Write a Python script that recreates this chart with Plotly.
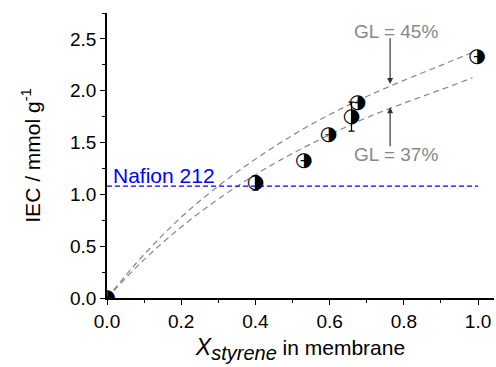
import plotly.graph_objects as go

# measured points (X_styrene, IEC)
x_pts = [0.0, 0.40, 0.53, 0.597, 0.659, 0.675, 0.997]
y_pts = [0.0, 1.11, 1.325, 1.575, 1.75, 1.885, 2.33]
err_pts = [0.0, 0.07, 0.0, 0.0, 0.14, 0.0, 0.0]

# dashed guide curves
x_curve = [0.0, 0.1, 0.2, 0.3, 0.4, 0.5, 0.6, 0.7, 0.8, 0.9, 0.985]
y_gl45 = [0.0, 0.42, 0.78, 1.08, 1.34, 1.57, 1.77, 1.945, 2.10, 2.245, 2.37]
y_gl37 = [0.0, 0.37, 0.685, 0.955, 1.19, 1.395, 1.575, 1.74, 1.88, 2.01, 2.125]

nafion_x = [0.0, 1.0]
nafion_y = [1.08, 1.08]

font = "Liberation Sans, Arial, sans-serif"

fig = go.Figure()
fig.add_trace(go.Scatter(x=x_curve, y=y_gl45, mode="lines", line=dict(color="#888888", width=1.2, dash="6px,4px"), line_shape="spline", hoverinfo="skip"))
fig.add_trace(go.Scatter(x=x_curve, y=y_gl37, mode="lines", line=dict(color="#888888", width=1.2, dash="6px,4px"), line_shape="spline", hoverinfo="skip"))
fig.add_trace(go.Scatter(x=nafion_x, y=nafion_y, mode="lines", line=dict(color="#0000ff", width=1.3, dash="5px,3px")))
# error bars
fig.add_trace(go.Scatter(x=x_pts, y=y_pts, mode="markers", marker=dict(size=1, opacity=0),
                         error_y=dict(type="data", array=err_pts, color="black", thickness=1.2, width=3)))
# half-filled markers
fig.add_trace(go.Scatter(x=x_pts, y=y_pts, mode="text", text=["\u25d1"] * len(x_pts),
                         textposition="middle center",
                         textfont=dict(family="DejaVu Sans", size=20, color="black"), cliponaxis=True))

fig.add_annotation(x=0.01, y=1.08, text="Nafion 212", showarrow=False, xanchor="left", yanchor="bottom",
                   font=dict(family=font, size=21, color="#0000ff"), yshift=-3)
fig.add_annotation(x=0.763, y=2.066, ax=0.763, ay=2.52, axref="x", ayref="y", text="", showarrow=True,
                   arrowhead=2, arrowsize=1, arrowwidth=1.2, arrowcolor="#333333")
fig.add_annotation(x=0.763, y=1.84, ax=0.763, ay=1.45, axref="x", ayref="y", text="", showarrow=True,
                   arrowhead=2, arrowsize=1, arrowwidth=1.2, arrowcolor="#333333")
fig.add_annotation(x=0.78, y=2.57, text="GL = 45%", showarrow=False, font=dict(family=font, size=19, color="#888888"))
fig.add_annotation(x=0.78, y=1.38, text="GL = 37%", showarrow=False, font=dict(family=font, size=19, color="#888888"))

axis_common = dict(showgrid=False, zeroline=False, showline=True, linecolor="black", linewidth=1.5,
                   ticks="outside", ticklen=5, tickwidth=1.2, tickcolor="black", automargin=False,
                   tickfont=dict(family=font, size=19, color="black"))
fig.update_xaxes(range=[0, 1.043], tickvals=[0, 0.2, 0.4, 0.6, 0.8, 1.0], ticktext=["0.0", "0.2", "0.4", "0.6", "0.8", "1.0"],
                 minor=dict(ticks="outside", ticklen=3, tickcolor="black", dtick=0.1, tick0=0),
                 title=dict(text="<i><span style='font-size:23px'>X</span><sub><span style='font-size:20px'>styrene</span></sub></i> in membrane",
                            font=dict(family=font, size=21, color="black"), standoff=10),
                 **axis_common)
fig.update_yaxes(range=[0, 2.75], tickvals=[0, 0.5, 1.0, 1.5, 2.0, 2.5], ticktext=["0.0", "0.5", "1.0", "1.5", "2.0", "2.5"],
                 minor=dict(ticks="outside", ticklen=3, tickcolor="black", dtick=0.25, tick0=0),
                 title=dict(text="IEC / mmol g<sup>-1</sup>", font=dict(family=font, size=21, color="black"), standoff=24),
                 **axis_common)
fig.update_layout(width=496, height=367, margin=dict(l=107, r=2, t=13, b=69), showlegend=False,
                  plot_bgcolor="white", paper_bgcolor="white")
fig.write_html("out.html", config={"displayModeBar": False},
               post_script="document.body.style.margin='0px';document.body.style.padding='0px';")
